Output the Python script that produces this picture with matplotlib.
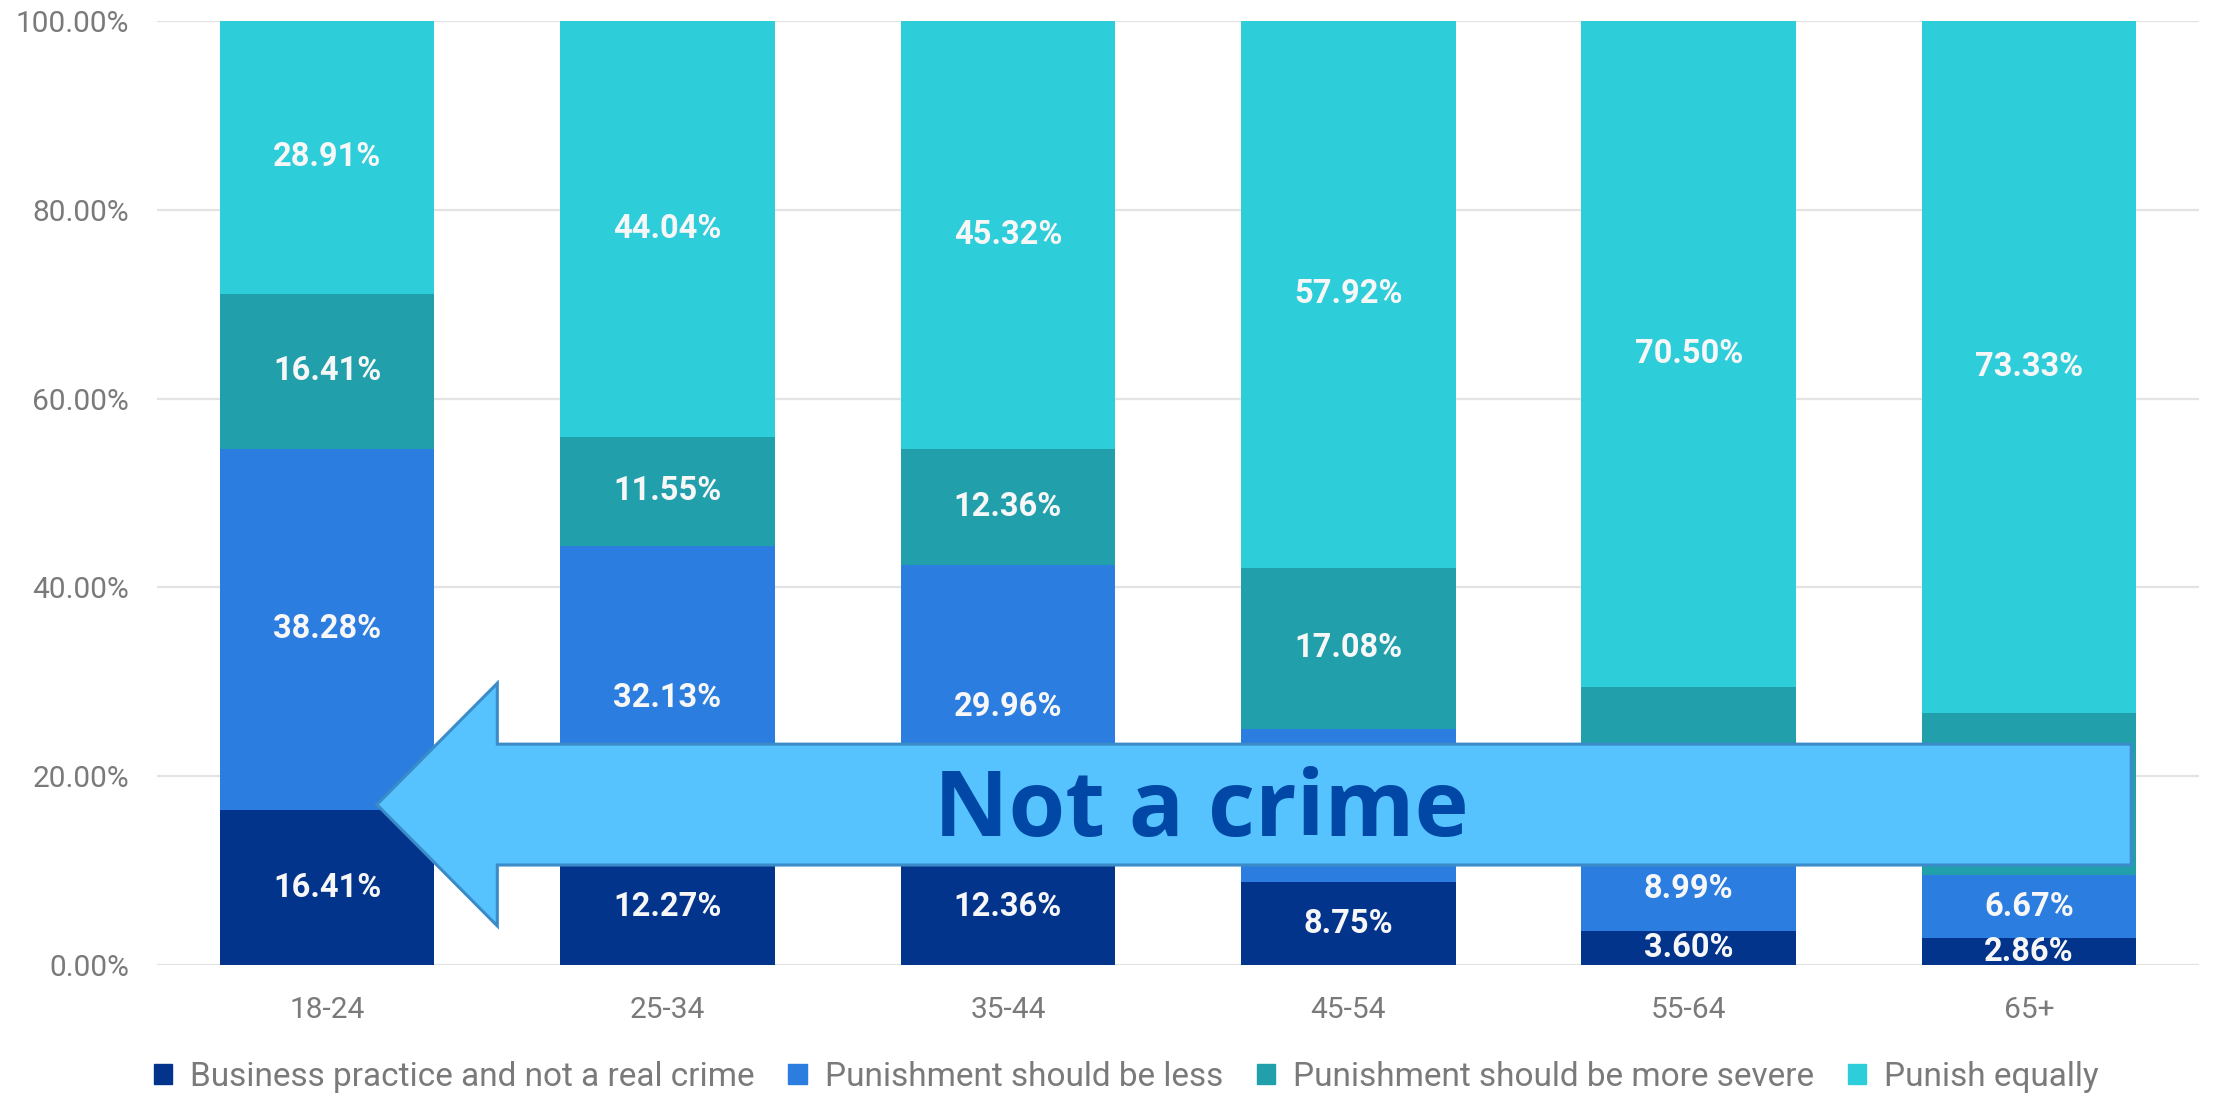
import matplotlib
matplotlib.use("Agg")
import matplotlib.pyplot as plt
from matplotlib.patches import Patch, FancyArrow
import numpy as np

categories = ["18-24", "25-34", "35-44", "45-54", "55-64", "65+"]
series_names = ["Business practice and not a real crime", "Punishment should be less",
                "Punishment should be more severe", "Punish equally"]
business = [16.41, 12.27, 12.36, 8.75, 3.60, 2.86]
less = [38.28, 32.13, 29.96, 16.25, 8.99, 6.67]
severe = [16.41, 11.55, 12.36, 17.08, 16.91, 17.14]
equal = [28.91, 44.04, 45.32, 57.92, 70.50, 73.33]
colors = ["#03348c", "#2b7de0", "#21a0ac", "#2ecdda"]
yticks = [0, 20, 40, 60, 80, 100]

plt.rcParams['font.family'] = ['Roboto', 'DejaVu Sans']

fig = plt.figure(figsize=(22.26, 10.93), dpi=100)
ax = fig.add_axes([0.0705, 0.117, 0.9175, 0.864])

# annotation arrow geometry (data coords)
arr_x0, arr_x1, arr_y = 5.30, 0.146, 17.0
shaft_w, head_w, head_l = 12.8, 25.7, 0.354

x = np.arange(len(categories))
bottom = np.zeros(len(categories))
width = 0.63
for vals, col in zip([business, less, severe, equal], colors):
    vals = np.array(vals)
    ax.bar(x, vals, width, bottom=bottom, color=col, zorder=2)
    for xi, b, v in zip(x, bottom, vals):
        yc = b + v / 2
        # labels under the arrow shaft are hidden in the original
        if abs(yc - arr_y) < shaft_w / 2 and xi > arr_x1 + head_l:
            continue
        ax.text(xi, yc, f"{v:.2f}%", ha="center", va="center",
                color="#f7f7f7", fontsize=23.5, fontweight="bold", zorder=3)
    bottom += vals

ax.set_xlim(-0.5, 5.5)
ax.set_ylim(0, 100)
ax.set_yticks(yticks)
ax.set_yticklabels([f"{v:.2f}%" for v in yticks])
ax.set_xticks(x)
ax.set_xticklabels(categories)
ax.tick_params(axis="y", length=0, pad=20, labelsize=21.5, labelcolor="#7a7a7a")
ax.tick_params(axis="x", length=0, pad=22, labelsize=21.5, labelcolor="#7a7a7a")
ax.grid(axis="y", color="#e3e3e3", linewidth=1.6, zorder=0)
ax.set_axisbelow(True)
for s in ax.spines.values():
    s.set_visible(False)

arrow = FancyArrow(arr_x0, arr_y, -(arr_x0 - arr_x1), 0, width=shaft_w, head_width=head_w,
                   head_length=head_l, length_includes_head=True,
                   facecolor="#56c3fe", edgecolor="#3a8bc8", linewidth=2.2, zorder=5)
ax.add_patch(arrow)
ax.text(2.567, 16.2, "Not a crime", ha="center", va="center", color="#0047a6",
        fontsize=66, fontweight="bold", family=["Open Sans", "DejaVu Sans"], zorder=6)

handles = [Patch(facecolor=c, edgecolor=c) for c in colors]
fig.legend(handles, series_names, loc="center", bbox_to_anchor=(0.506, 0.0150), ncol=4,
           frameon=False, fontsize=24, labelcolor="#7a7a7a", handlelength=0.55,
           handleheight=0.55, handletextpad=0.55, columnspacing=1.0)

fig.savefig("out.png", dpi=100, facecolor="white")
